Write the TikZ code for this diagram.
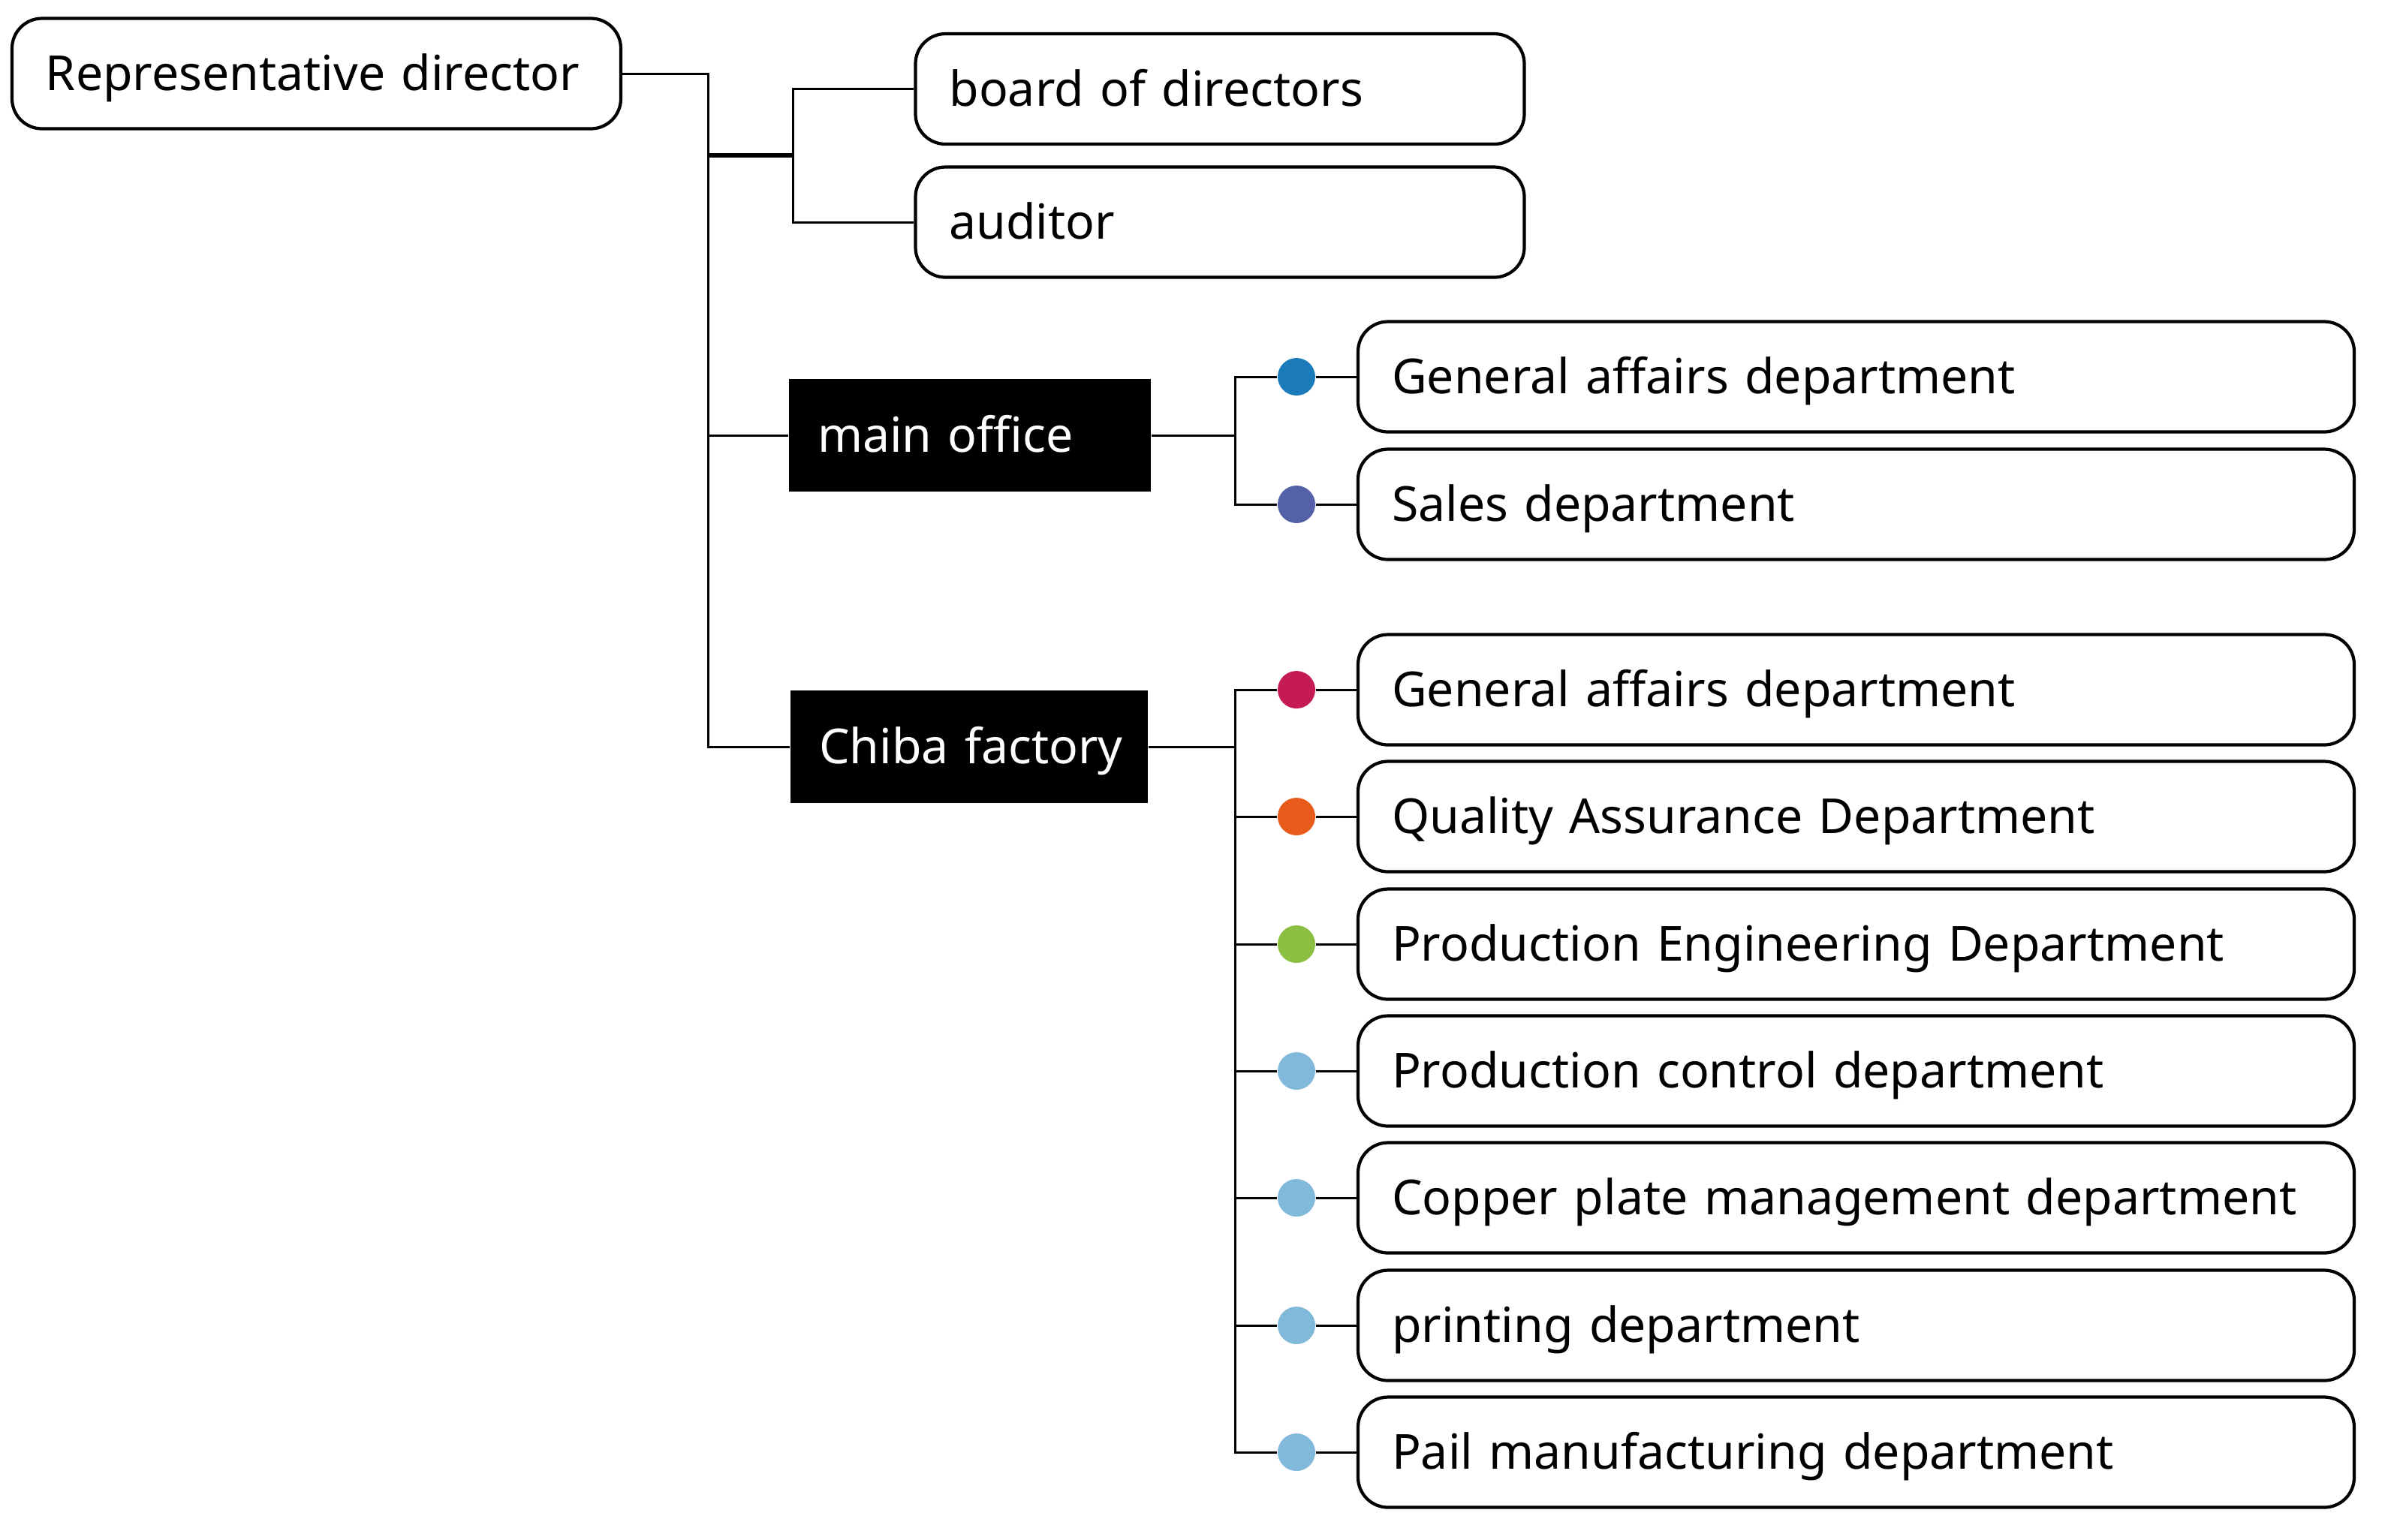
\documentclass[tikz,border=0pt]{standalone}
\usepackage{fontspec}
\setmainfont{Noto Sans}
\usepackage{tikz}

\definecolor{dotblue}{HTML}{1B7BBA}
\definecolor{dotpurple}{HTML}{5461A8}
\definecolor{dotred}{HTML}{C51A54}
\definecolor{dotorange}{HTML}{E95B1A}
\definecolor{dotgreen}{HTML}{8BBF41}
\definecolor{dotsky}{HTML}{80B9DA}

\begin{document}
\begin{tikzpicture}[
    font=\fontsize{18.3}{22}\selectfont,
    link/.style={line width=0.85pt},
    roundbox/.style={draw, line width=1.2pt, rounded corners=0.4cm, align=left,
      inner xsep=0.45cm, minimum height=1.47cm, text height=0.6cm, text depth=0.15cm},
    headbox/.style={roundbox, text width=7.21cm},
    deptbox/.style={roundbox, text width=12.37cm},
    sitebox/.style={fill=black, text=white, align=left, inner xsep=0.38cm,
      minimum height=1.5cm, text height=0.6cm, text depth=0.15cm},
    dotmark/.style={circle, inner sep=0pt, minimum size=0.5cm, fill=#1}]
  \useasboundingbox (0,0) rectangle (32.01,-20.51);
  % top level
  \node[headbox] (rep) at (4.215,-0.98) {Representative director};
  \node[headbox] (board) at (16.25,-1.185) {board of directors};
  \node[headbox] (auditor) at (16.25,-2.96) {auditor};
  \node[sitebox, text width=4.06cm] (main) at (12.92,-5.80) {main office};
  \node[sitebox, text width=4.0cm] (chiba) at (12.91,-9.95) {\mbox{Chiba factory}};
  % main office departments
  \node[deptbox] (mainGA) at (24.725,-5.02) {General affairs department};
  \node[deptbox] (mainSales) at (24.725,-6.72) {Sales department};
  % Chiba factory departments
  \node[deptbox] (chibaGA) at (24.725,-9.19) {General affairs department};
  \node[deptbox] (chibaQA) at (24.725,-10.88) {Quality Assurance Department};
  \node[deptbox] (chibaPE) at (24.725,-12.58) {Production Engineering Department};
  \node[deptbox] (chibaPC) at (24.725,-14.27) {Production control department};
  \node[deptbox] (chibaCP) at (24.725,-15.96) {Copper plate management department};
  \node[deptbox] (chibaPr) at (24.725,-17.66) {printing department};
  \node[deptbox] (chibaPail) at (24.725,-19.35) {Pail manufacturing department};
  % dots
  \node[dotmark=dotblue] (dMainGA) at (17.27,-5.02) {};
  \node[dotmark=dotpurple] (dMainSales) at (17.27,-6.72) {};
  \node[dotmark=dotred] (dChibaGA) at (17.27,-9.19) {};
  \node[dotmark=dotorange] (dChibaQA) at (17.27,-10.88) {};
  \node[dotmark=dotgreen] (dChibaPE) at (17.27,-12.58) {};
  \node[dotmark=dotsky] (dChibaPC) at (17.27,-14.27) {};
  \node[dotmark=dotsky] (dChibaCP) at (17.27,-15.96) {};
  \node[dotmark=dotsky] (dChibaPr) at (17.27,-17.66) {};
  \node[dotmark=dotsky] (dChibaPail) at (17.27,-19.35) {};
  % junctions
  \coordinate (jRep) at (9.43,-2.07);
  \coordinate (jBoard) at (10.56,-2.07);
  \coordinate (jMain) at (16.45,-5.80);
  \coordinate (jChiba) at (16.45,-9.95);
  % lines
  \draw[link] (rep.east) -| (jRep) |- (chiba.west);
  \draw[link] (jRep) |- (main.west);
  \draw[line width=1.5pt] (jRep) -- (jBoard);
  \draw[link] (board.west) -| (jBoard) |- (auditor.west);
  \draw[link] (main.east) -- (jMain);
  \draw[link] (dMainGA.west) -| (jMain) |- (dMainSales.west);
  \draw[link] (chiba.east) -- (jChiba);
  \draw[link] (dChibaGA.west) -| (jChiba) |- (dChibaPail.west);
  \draw[link] (dChibaQA.west) -- (dChibaQA.west -| jChiba);
  \draw[link] (dChibaPE.west) -- (dChibaPE.west -| jChiba);
  \draw[link] (dChibaPC.west) -- (dChibaPC.west -| jChiba);
  \draw[link] (dChibaCP.west) -- (dChibaCP.west -| jChiba);
  \draw[link] (dChibaPr.west) -- (dChibaPr.west -| jChiba);
  \draw[link] (dMainGA) -- (mainGA.west);
  \draw[link] (dMainSales) -- (mainSales.west);
  \draw[link] (dChibaGA) -- (chibaGA.west);
  \draw[link] (dChibaQA) -- (chibaQA.west);
  \draw[link] (dChibaPE) -- (chibaPE.west);
  \draw[link] (dChibaPC) -- (chibaPC.west);
  \draw[link] (dChibaCP) -- (chibaCP.west);
  \draw[link] (dChibaPr) -- (chibaPr.west);
  \draw[link] (dChibaPail) -- (chibaPail.west);
\end{tikzpicture}
\end{document}
